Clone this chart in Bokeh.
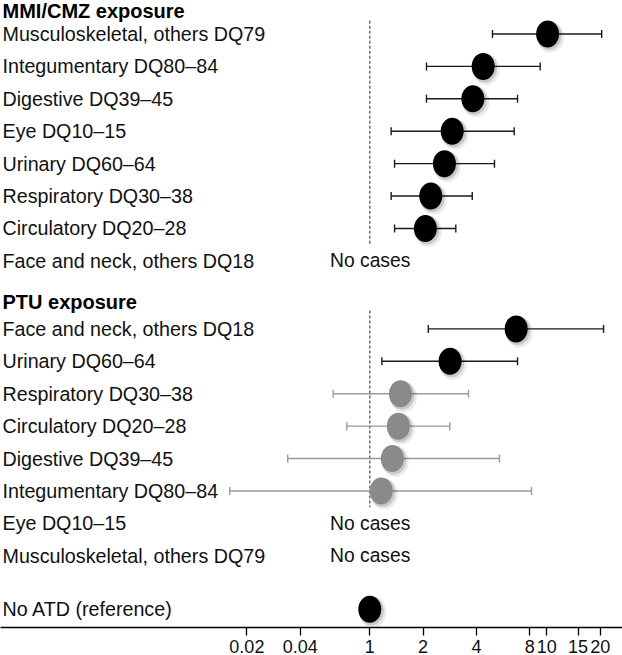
import math
import numpy as np
from bokeh.plotting import figure
from bokeh.models import Range1d, FixedTicker, ColumnDataSource
from bokeh.core.properties import value
from bokeh.embed import file_html
from bokeh.resources import INLINE

# ---------------- data ----------------
mmi_title = "MMI/CMZ exposure"
mmi_labels = ["Musculoskeletal, others DQ79", "Integumentary DQ80\u201384", "Digestive DQ39\u201345",
              "Eye DQ10\u201315", "Urinary DQ60\u201364", "Respiratory DQ30\u201338",
              "Circulatory DQ20\u201328", "Face and neck, others DQ18"]
mmi_or = [10.1, 4.37, 3.82, 2.92, 2.64, 2.21, 2.06, None]
mmi_lo = [4.93, 2.09, 2.09, 1.32, 1.38, 1.32, 1.38, None]
mmi_hi = [20.4, 9.17, 6.83, 6.54, 5.06, 3.79, 3.06, None]

ptu_title = "PTU exposure"
ptu_labels = ["Face and neck, others DQ18", "Urinary DQ60\u201364", "Respiratory DQ30\u201338",
              "Circulatory DQ20\u201328", "Digestive DQ39\u201345", "Integumentary DQ80\u201384",
              "Eye DQ10\u201315", "Musculoskeletal, others DQ79"]
ptu_or = [6.71, 2.84, 1.49, 1.45, 1.34, 1.16, None, None]
ptu_lo = [2.14, 1.17, 0.184, 0.346, 0.034, 0.016, None, None]
ptu_hi = [20.9, 6.83, 3.61, 2.83, 5.40, 8.19, None, None]

ref_label = "No ATD (reference)"
ref_or = 1.0
no_cases_text = "No cases"

tick_values = [0.02, 0.04, 1, 2, 4, 8, 10, 15, 20]
tick_labels = ["0.02", "0.04", "1", "2", "4", "8", "10", "15", "20"]

# ------------- axis transform (log2 scale with compressed 0.04-1 segment) -------------
BREAK_LOW = 0.04
BREAK_SPAN = 1.306  # doublings drawn for the 0.04..1 segment


def axis_pos(v):
    if v >= 1:
        return math.log2(v)
    if v > BREAK_LOW:
        return -BREAK_SPAN * math.log(v) / math.log(BREAK_LOW)
    return -BREAK_SPAN + math.log2(v / BREAK_LOW)


# ------------- layout (row slots) -------------
PX_X = 53.3   # px per doubling
PX_Y = 32.2   # px per row
mmi_title_y = 0.29
mmi_rows = [1 + i for i in range(len(mmi_labels))]
ptu_title_y = 9.27
ptu_rows = [10.1 + i for i in range(len(ptu_labels))]
ref_row = 18.75

FONT = "Liberation Sans"
BLACK_LINE = "#1a1a1a"
GRAY_LINE = "#9a9a9a"
GRAY_FILL = "#8a8a8a"

p = figure(width=622, height=655, output_backend="svg", toolbar_location=None,
           x_range=Range1d(-369.3 / PX_X, (622 - 369.3) / PX_X),
           y_range=Range1d(-0.034 + 623 / PX_Y, -0.034),
           y_axis_location=None, min_border_left=0, min_border_right=0,
           min_border_top=0, min_border_bottom=0)
p.grid.visible = False
p.outline_line_color = None
p.background_fill_color = "white"
p.border_fill_color = "white"

label_x = (2 - 369.3) / PX_X
nocase_x = (329.5 - 369.3) / PX_X

# titles
p.text(x=[label_x, label_x], y=[mmi_title_y, ptu_title_y], text=[mmi_title, ptu_title],
       text_font=value(FONT), text_font_size="20px", text_font_style="bold",
       text_baseline="middle", text_align="left", text_color="black")

# row labels
all_labels = mmi_labels + ptu_labels + [ref_label]
all_rows = mmi_rows + ptu_rows + [ref_row]
p.text(x=[label_x] * len(all_labels), y=all_rows, text=all_labels,
       text_font=value(FONT), text_font_size="19.7px", text_baseline="middle",
       text_align="left", text_color="#111111")

# reference dashed lines
p.segment(x0=[0, 0], x1=[0, 0], y0=[mmi_rows[0] - 0.41, ptu_rows[0] - 0.57],
          y1=[mmi_rows[6] + 0.53, ptu_rows[5] + 0.5],
          line_color="#555555", line_width=1.3, line_dash="3 2")


def draw_rows(rows, ors, los, his):
    xs, ys, x0, x1, colr, fill, nc_y = [], [], [], [], [], [], []
    for r, o, lo, hi in zip(rows, ors, los, his):
        if o is None:
            nc_y.append(r)
            continue
        sig = lo > 1
        xs.append(axis_pos(o)); ys.append(r)
        x0.append(axis_pos(lo)); x1.append(axis_pos(hi))
        colr.append(BLACK_LINE if sig else GRAY_LINE)
        fill.append("black" if sig else GRAY_FILL)
    src = ColumnDataSource(dict(x=xs, y=ys, x0=x0, x1=x1, c=colr, f=fill,
                                sx1=[v + 1.5 / PX_X for v in xs], sy1=[v + 1.5 / PX_Y for v in ys],
                                sx2=[v + 3.0 / PX_X for v in xs], sy2=[v + 3.0 / PX_Y for v in ys]))
    p.segment(x0="x0", x1="x1", y0="y", y1="y", line_color="c", line_width=1.4, source=src)
    p.scatter(x="x0", y="y", marker="dash", angle=math.pi / 2, size=8, line_color="c",
              line_width=1.4, source=src)
    p.scatter(x="x1", y="y", marker="dash", angle=math.pi / 2, size=8, line_color="c",
              line_width=1.4, source=src)
    p.ellipse(x="sx2", y="sy2", width=27, height=31, width_units="screen", height_units="screen",
              fill_color="#000000", fill_alpha=0.08, line_color=None, source=src)
    p.ellipse(x="sx1", y="sy1", width=25, height=29, width_units="screen", height_units="screen",
              fill_color="#000000", fill_alpha=0.15, line_color=None, source=src)
    p.ellipse(x="x", y="y", width=23, height=27, width_units="screen", height_units="screen",
              fill_color="f", line_color=None, source=src)
    if nc_y:
        p.text(x=[nocase_x] * len(nc_y), y=nc_y, text=[no_cases_text] * len(nc_y),
               text_font=value(FONT), text_font_size="19.3px", text_baseline="middle",
               text_align="left", text_color="#111111")


draw_rows(mmi_rows, mmi_or, mmi_lo, mmi_hi)
draw_rows(ptu_rows, ptu_or, ptu_lo, ptu_hi)

# reference point
rx = axis_pos(ref_or)
p.ellipse(x=[rx + 3.0 / PX_X], y=[ref_row + 3.0 / PX_Y], width=27, height=31, width_units="screen",
          height_units="screen", fill_color="#000000", fill_alpha=0.08, line_color=None)
p.ellipse(x=[rx + 1.5 / PX_X], y=[ref_row + 1.5 / PX_Y], width=25, height=29, width_units="screen",
          height_units="screen", fill_color="#000000", fill_alpha=0.15, line_color=None)
p.ellipse(x=[rx], y=[ref_row], width=23, height=27, width_units="screen", height_units="screen",
          fill_color="black", line_color=None)

# x axis
tick_pos = [round(axis_pos(v), 6) for v in tick_values]
ax = p.xaxis[0]
ax.ticker = FixedTicker(ticks=tick_pos, minor_ticks=[])
ax.major_label_overrides = {tp: lab for tp, lab in zip(tick_pos, tick_labels)}
ax.axis_line_color = "black"
ax.axis_line_width = 1.3
ax.major_tick_line_color = "black"
ax.major_tick_line_width = 1.3
ax.major_tick_in = 0
ax.major_tick_out = 8
ax.minor_tick_line_color = None
ax.major_label_standoff = 4
ax.major_label_text_font = FONT
ax.major_label_text_font_size = "18px"
ax.major_label_text_color = "#111111"

open("out.html", "w").write(file_html(p, INLINE))
